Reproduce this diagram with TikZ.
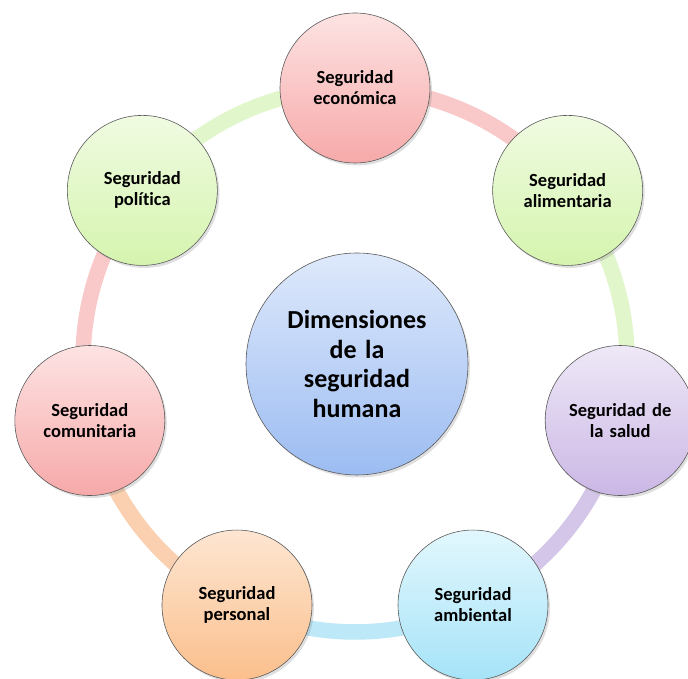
\documentclass[tikz,border=0pt]{standalone}
\usepackage{fontspec}
\setmainfont{Carlito}[Ligatures={NoCommon}]
\usetikzlibrary{shadows}
\definecolor{pinkT}{HTML}{FDE3E3}\definecolor{pinkB}{HTML}{F7A9A9}
\definecolor{greenT}{HTML}{F0FBE2}\definecolor{greenB}{HTML}{D5F4AE}
\definecolor{purpT}{HTML}{EEE8F7}\definecolor{purpB}{HTML}{CBB7E5}
\definecolor{blueT}{HTML}{E2F7FD}\definecolor{blueB}{HTML}{A6E3F8}
\definecolor{oranT}{HTML}{FDE6D2}\definecolor{oranB}{HTML}{FBBF8C}
\definecolor{cenT}{HTML}{DEE9FB}\definecolor{cenB}{HTML}{9CBCF2}
\definecolor{ringPink}{HTML}{F9C8C8}
\definecolor{ringGreen}{HTML}{E2F6CB}
\definecolor{ringPurp}{HTML}{D4C6E8}
\definecolor{ringBlue}{HTML}{BCE8F8}
\definecolor{ringOran}{HTML}{FAD0B0}
\definecolor{edgeGray}{HTML}{5A5A5A}
\begin{document}
\begin{tikzpicture}[x=1pt,y=1pt,
  bubble/.style={circle,draw=edgeGray,line width=0.6pt,minimum size=150pt,inner sep=0pt,
    align=center,font=\fontsize{18.5}{21}\selectfont\bfseries,text width=130pt,
    drop shadow={opacity=0.25,shadow xshift=2pt,shadow yshift=-2.5pt}},
  hub/.style={circle,draw=edgeGray,line width=0.6pt,minimum size=222pt,inner sep=0pt,
    align=center,font=\fontsize{26}{29.5}\selectfont\bfseries,text width=190pt,
    drop shadow={opacity=0.25,shadow xshift=2pt,shadow yshift=-2.5pt}},
  ring/.style={line width=15.5pt}]
\useasboundingbox (0,0) rectangle (688,679);
\fill[white] (0,0) rectangle (688,679);
\coordinate (c) at (355,319);
\def\R{272}
% node positions
\coordinate (p0) at ([shift={(90:\R)}]c);
\coordinate (p1) at ([shift={(38.571:\R)}]c);
\coordinate (p2) at ([shift={(-12.857:\R)}]c);
\coordinate (p3) at ([shift={(-64.286:\R)}]c);
\coordinate (p4) at ([shift={(-115.714:\R)}]c);
\coordinate (p5) at ([shift={(-167.143:\R)}]c);
\coordinate (p6) at ([shift={(-218.571:\R)}]c);
% ring arcs
\draw[ring,ringPink]  (p0) arc[start angle=90,end angle=38.571,radius=\R];
\draw[ring,ringGreen] (p1) arc[start angle=38.571,end angle=-12.857,radius=\R];
\draw[ring,ringPurp]  (p2) arc[start angle=-12.857,end angle=-64.286,radius=\R];
\draw[ring,ringBlue]  (p3) arc[start angle=-64.286,end angle=-115.714,radius=\R];
\draw[ring,ringOran]  (p4) arc[start angle=-115.714,end angle=-167.143,radius=\R];
\draw[ring,ringPink]  (p5) arc[start angle=-167.143,end angle=-218.571,radius=\R];
\draw[ring,ringGreen] (p6) arc[start angle=-218.571,end angle=-270,radius=\R];
% nodes
\node[hub,top color=cenT,bottom color=cenB] (hub) at (357,315) {Dimensiones\\de la\\seguridad\\humana};
\node[bubble,top color=pinkT,bottom color=pinkB] (eco) at (p0) {Seguridad\\económica};
\node[bubble,top color=greenT,bottom color=greenB] (ali) at (p1) {Seguridad\\alimentaria};
\node[bubble,top color=purpT,bottom color=purpB] (sal) at (p2) {Seguridad de\\la salud};
\node[bubble,top color=blueT,bottom color=blueB] (amb) at (p3) {Seguridad\\ambiental};
\node[bubble,top color=oranT,bottom color=oranB] (per) at (p4) {Seguridad\\personal};
\node[bubble,top color=pinkT,bottom color=pinkB] (com) at (p5) {Seguridad\\comunitaria};
\node[bubble,top color=greenT,bottom color=greenB] (pol) at (p6) {Seguridad\\política};
\end{tikzpicture}
\end{document}
